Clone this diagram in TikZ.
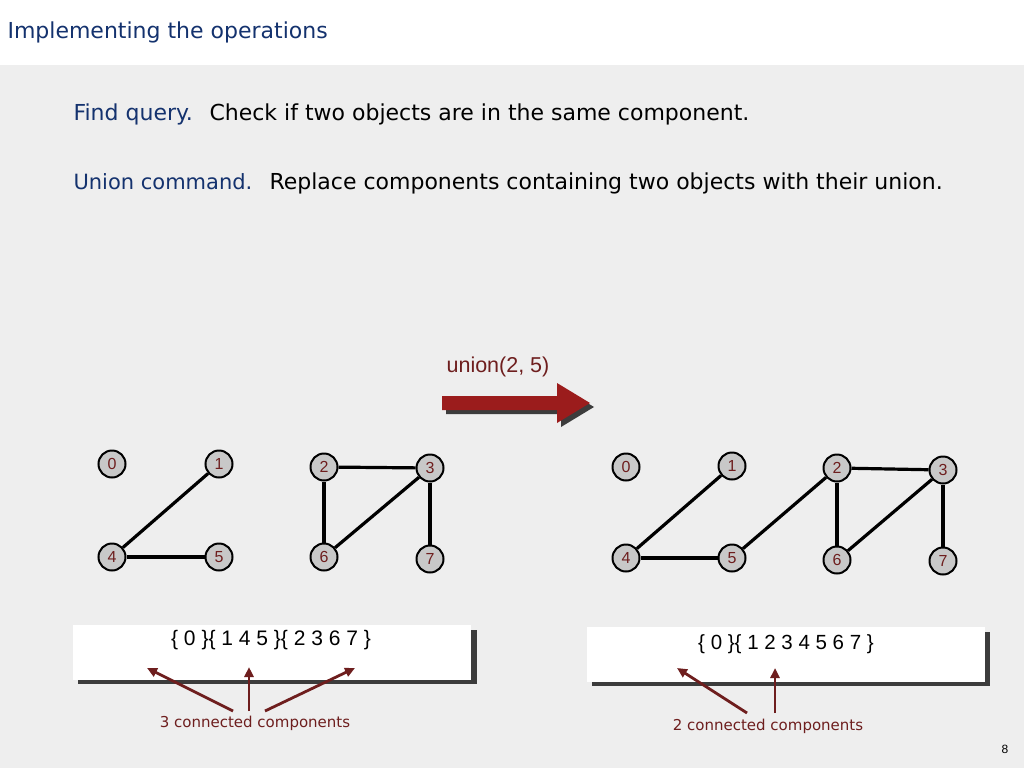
\documentclass[tikz,border=0pt]{standalone}
\usepackage{fontspec}
\setmainfont{DejaVu Sans}
\newfontfamily\arialfont{Liberation Sans}
\usetikzlibrary{arrows.meta}

\definecolor{slideblue}{RGB}{20,50,110}
\definecolor{slidegray}{RGB}{238,238,238}
\definecolor{vertgray}{RGB}{200,200,200}
\definecolor{arrowred}{RGB}{155,28,28}
\definecolor{notered}{RGB}{110,30,30}
\definecolor{shadowgray}{RGB}{60,60,60}

\tikzset{
  vert/.style={circle, draw=black, line width=2pt, fill=vertgray, minimum size=27pt,
    inner sep=0pt, text=notered, font=\arialfont\fontsize{16}{16}\selectfont},
  edge/.style={line width=3.2pt},
  setbox/.style={fill=white, minimum width=398pt, minimum height=55pt, inner sep=0pt},
  setshadow/.style={fill=shadowgray},
  note/.style={draw=notered, line width=2.8pt, -{Triangle[length=10pt,width=9pt]}},
  notetext/.style={text=notered, font=\fontsize{15}{15}\selectfont}
}

\begin{document}
\begin{tikzpicture}[x=1pt, y=-1pt]
\useasboundingbox (0,0) rectangle (1024,768);
% background and title band
\fill[slidegray] (0,65) rectangle (1024,768);
\fill[white] (0,0) rectangle (1024,65);
\node[anchor=west, text=slideblue, font=\fontsize{22}{22}\selectfont] (title) at (4,32) {Implementing the operations};
% definitions
\node[anchor=base west, text=slideblue, font=\fontsize{22}{22}\selectfont] (findq) at (70,120) {Find query.};
\node[anchor=base west, font=\fontsize{22}{22}\selectfont] (findt) at (206,120) {Check if two objects are in the same component.};
\node[anchor=base west, text=slideblue, font=\fontsize{21}{21}\selectfont] (unionc) at (70,189) {Union command.};
\node[anchor=base west, font=\fontsize{22}{22}\selectfont] (uniont) at (266,189) {Replace components containing two objects with their union.};

% union arrow
\node[text=notered, font=\arialfont\fontsize{21.5}{21.5}\selectfont] (ulabel) at (498,367) {union(2, 5)};
\fill[shadowgray] (446,400) -- (561,400) -- (561,387) -- (594,407) -- (561,427) -- (561,414) -- (446,414) -- cycle;
\fill[arrowred] (442,396) -- (557,396) -- (557,383) -- (590,403) -- (557,423) -- (557,410) -- (442,410) -- cycle;

% left graph
\node[vert] (a0) at (112,464) {0};
\node[vert] (a1) at (219,464) {1};
\node[vert] (a2) at (324,467) {2};
\node[vert] (a3) at (430,468) {3};
\node[vert] (a4) at (112,557) {4};
\node[vert] (a5) at (219,557) {5};
\node[vert] (a6) at (324,557) {6};
\node[vert] (a7) at (430,559) {7};
\draw[edge] (a1) -- (a4);
\draw[edge] (a4) -- (a5);
\draw[edge] (a2) -- (a3);
\draw[edge] (a2) -- (a6);
\draw[edge] (a3) -- (a6);
\draw[edge] (a3) -- (a7);

% right graph
\node[vert] (b0) at (626,467) {0};
\node[vert] (b1) at (732,466) {1};
\node[vert] (b2) at (837,468) {2};
\node[vert] (b3) at (943,470) {3};
\node[vert] (b4) at (626,558) {4};
\node[vert] (b5) at (732,558) {5};
\node[vert] (b6) at (837,560) {6};
\node[vert] (b7) at (943,561) {7};
\draw[edge] (b1) -- (b4);
\draw[edge] (b4) -- (b5);
\draw[edge] (b5) -- (b2);
\draw[edge] (b2) -- (b3);
\draw[edge] (b2) -- (b6);
\draw[edge] (b3) -- (b6);
\draw[edge] (b3) -- (b7);

% component boxes
\fill[setshadow] (78,630) rectangle (477,684);
\node[setbox, anchor=north west] (lbox) at (73,625) {};
\node[font=\arialfont\fontsize{21}{21}\selectfont] (lset) at (271,640) {\{ 0 \}\{ 1 4 5 \}\{ 2 3 6 7 \}};
\fill[setshadow] (592,632) rectangle (990,686);
\node[setbox, anchor=north west] (rbox) at (587,627) {};
\node[font=\arialfont\fontsize{20.5}{20.5}\selectfont] (rset) at (786,644) {\{ 0 \}\{ 1 2 3 4 5 6 7 \}};

% annotations
\node[notetext] (lnote) at (255,723) {3 connected components};
\coordinate (l1) at (147,668);
\coordinate (l2) at (249,667);
\coordinate (l3) at (355,668);
\draw[note] (233,711) -- (l1);
\draw[note] (249,711) -- (l2);
\draw[note] (265,711) -- (l3);
\node[notetext] (rnote) at (768,726) {2 connected components};
\coordinate (r1) at (677,668);
\coordinate (r2) at (775,668);
\draw[note] (747,713) -- (r1);
\draw[note] (775,713) -- (r2);

% page number
\node[font=\arialfont\fontsize{12}{12}\selectfont] (pnum) at (1005,749) {8};
\end{tikzpicture}
\end{document}
